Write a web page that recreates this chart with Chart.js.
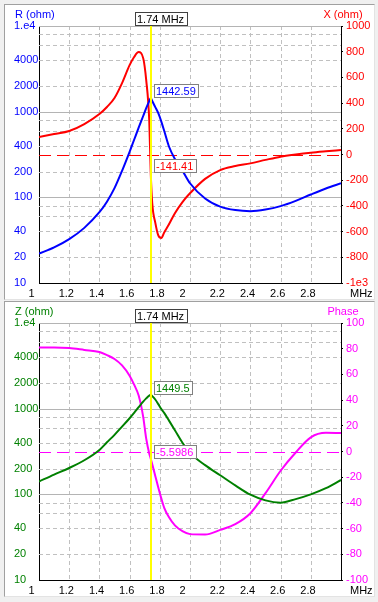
<!DOCTYPE html>
<html>
<head>
<meta charset="utf-8">
<script src="https://cdn.jsdelivr.net/npm/chart.js@4.4.1/dist/chart.umd.min.js"></script>
<style>
  body { margin: 0; background: #f0f0f0; width: 378px; height: 602px; overflow: hidden; position: relative; }
  .panel { position: absolute; left: 4px; width: 369px; height: 294px; background: #fff;
           border: 1px solid; border-color: #a0a0a0 #e3e3e3 #e3e3e3 #a0a0a0; }
  #p1 { top: 4px; }
  #p2 { top: 301px; }
  canvas { display: block; }
</style>
</head>
<body>
<div class="panel" id="p1"><canvas id="rxChart" width="369" height="294"></canvas></div>
<div class="panel" id="p2"><canvas id="zChart" width="369" height="294"></canvas></div>
<script>
// sweep frequencies (MHz)
const freq = [1.0, 1.1, 1.2, 1.3, 1.4, 1.45, 1.5, 1.55, 1.6, 1.63, 1.66, 1.69, 1.71, 1.73, 1.74,
  1.75, 1.77, 1.79, 1.81, 1.83, 1.86, 1.9, 1.95, 2.0, 2.1, 2.2, 2.3, 2.4, 2.5, 2.6, 2.7, 2.8, 2.9, 3.0];

// R (ohm), X (ohm), |Z| (ohm), phase (deg)
const resistance = [22, 26, 32.5, 44, 67, 89, 128, 204, 340, 470, 650, 890, 1100, 1330, 1442.59,
  1330, 1130, 960, 765, 590, 395, 280, 205, 146, 97, 78, 71, 69, 72, 79, 91, 108, 127, 146];
const reactance = [136, 159, 183, 237, 315, 370, 440, 556, 696, 759, 797, 750, 579, 268, -141.41,
  -380, -530, -630, -650, -605, -545, -457, -370, -302, -190, -121, -90, -69, -42, -17, 0, 14, 25, 35];
const impedance = [141, 170, 203, 250, 330, 405, 495, 617, 773, 895, 1042, 1210, 1318, 1419, 1449.5,
  1400, 1280, 1130, 990, 886, 730, 560, 400, 305, 219, 167, 127, 99, 85, 80, 88, 100, 118, 147];
const phase = [81, 81, 80.5, 79, 77.4, 75, 72, 67, 59, 52, 43.5, 27, 10, -1.5, -5.5986,
  -10, -19, -28, -36.5, -44, -51, -57.5, -62, -64.3, -64.6, -61, -56.5, -48, -32.4, -15, -0.8, 11, 14.5, 14.3];

// axis ticks
const freqTicks = [1, 1.2, 1.4, 1.6, 1.8, 2, 2.2, 2.4, 2.6, 2.8, 3];
const freqLabels = ['1', '1.2', '1.4', '1.6', '1.8', '2', '2.2', '2.4', '2.6', '2.8', ''];
const logGrid = [10, 20, 40, 60, 80, 100, 200, 400, 600, 800, 1000, 2000, 4000, 6000, 8000, 10000];
const logSolid = [100, 1000, 10000];
const logTicks = [10, 20, 40, 100, 200, 400, 1000, 2000, 4000, 10000];
const logLabels = ['10', '20', '40', '100', '200', '400', '1000', '2000', '4000', '1.e4'];
const reactTicks = [-1000, -800, -600, -400, -200, 0, 200, 400, 600, 800, 1000];
const reactLabels = ['-1e3', '-800', '-600', '-400', '-200', '0', '200', '400', '600', '800', '1000'];
const phaseTicks = [-100, -80, -60, -40, -20, 0, 20, 40, 60, 80, 100];
const phaseLabels = ['-100', '-80', '-60', '-40', '-20', '0', '20', '40', '60', '80', '100'];

// cursor readout
const cursorFreq = 1.74;
const cursorText = '1.74 MHz';
const cursorR = 1442.59;
const cursorX = -141.41;
const cursorZ = 1449.5;
const cursorPhase = -5.5986;

const FAMILY = "'Liberation Sans', Arial, sans-serif";
const FONT = '11px ' + FAMILY;
Chart.defaults.font.family = FAMILY;
Chart.defaults.font.size = 11;

function pts(ys) {
  return freq.map((f, i) => ({ x: f, y: ys[i] }));
}

function setTicks(values) {
  return scale => { scale.ticks = values.map(v => ({ value: v })); };
}

function labelFrom(values, labels) {
  return v => {
    const i = values.indexOf(v);
    return i >= 0 ? labels[i] : '';
  };
}

function box(ctx, text, x, y, color, border) {
  const w = Math.ceil(ctx.measureText(text).width) + 4;
  ctx.fillStyle = '#fff';
  ctx.fillRect(x, y, w, 13);
  ctx.strokeStyle = border;
  ctx.lineWidth = 1;
  ctx.setLineDash([]);
  ctx.strokeRect(x + 0.5, y + 0.5, w, 13);
  ctx.fillStyle = color;
  ctx.fillText(text, x + 2, y + 7.5);
}

function panelPlugin(p) {
  return {
    id: 'panelDecor',
    beforeDatasetsDraw(chart) {
      const { ctx, chartArea: a } = chart;
      const xs = chart.scales.x, yl = chart.scales.yL, yr = chart.scales.yR;
      ctx.save();
      ctx.lineWidth = 1;
      // vertical grid (dashed)
      ctx.strokeStyle = '#c0c0c0';
      ctx.setLineDash([4, 3]);
      freqTicks.slice(1, -1).forEach(v => {
        const x = Math.round(xs.getPixelForValue(v)) + 0.5;
        ctx.beginPath(); ctx.moveTo(x, a.top); ctx.lineTo(x, a.bottom); ctx.stroke();
      });
      // horizontal grid from log axis
      logGrid.slice(1).forEach(v => {
        const solid = logSolid.includes(v);
        ctx.strokeStyle = solid ? '#b4b4b4' : '#c0c0c0';
        ctx.setLineDash(solid ? [] : [4, 3]);
        const y = Math.round(yl.getPixelForValue(v)) + 0.5;
        ctx.beginPath(); ctx.moveTo(a.left, y); ctx.lineTo(a.right, y); ctx.stroke();
      });
      // zero line of the right axis
      ctx.strokeStyle = p.rightColor;
      ctx.setLineDash([12, 6]);
      const y0 = Math.round(yr.getPixelForValue(0)) + 0.5;
      ctx.beginPath(); ctx.moveTo(a.left, y0); ctx.lineTo(a.right, y0); ctx.stroke();
      ctx.restore();
    },
    afterDatasetsDraw(chart) {
      const { ctx, chartArea: a } = chart;
      const cx = Math.round(chart.scales.x.getPixelForValue(cursorFreq));
      ctx.save();
      // yellow cursor line
      ctx.strokeStyle = '#ffff00';
      ctx.lineWidth = 2;
      ctx.beginPath(); ctx.moveTo(cx, a.top); ctx.lineTo(cx, a.bottom); ctx.stroke();
      ctx.font = FONT;
      ctx.textBaseline = 'middle';
      ctx.textAlign = 'left';
      box(ctx, cursorText, cx - 16, 7, '#000', '#404040');
      p.readouts.forEach(r => {
        const y = Math.round(chart.scales[r.axis].getPixelForValue(r.value));
        box(ctx, String(r.value), cx + 3, y - 14, r.color, '#808080');
      });
      // axis titles
      ctx.fillStyle = p.leftColor;
      ctx.fillText(p.leftTitle, 10, 9.5);
      ctx.textAlign = 'center';
      ctx.fillStyle = p.rightColor;
      ctx.fillText(p.rightTitle, a.right + 2, 9.5);
      ctx.textAlign = 'left';
      ctx.fillStyle = '#000';
      ctx.fillText('MHz', a.right + 9, 289);
      ctx.restore();
    }
  };
}

function makePanel(id, p) {
  return new Chart(document.getElementById(id), {
    type: 'line',
    data: {
      datasets: [
        { data: pts(p.left), borderColor: p.leftColor, yAxisID: 'yL' },
        { data: pts(p.right), borderColor: p.rightColor, yAxisID: 'yR' }
      ]
    },
    options: {
      responsive: false,
      animation: false,
      events: [],
      layout: { padding: { left: 9, top: 21, right: 0, bottom: 0 }, autoPadding: false },
      elements: {
        point: { radius: 0 },
        line: { borderWidth: 2, cubicInterpolationMode: 'monotone', fill: false }
      },
      plugins: { legend: { display: false }, tooltip: { enabled: false } },
      scales: {
        x: {
          type: 'linear', min: 1, max: 3,
          afterBuildTicks: setTicks(freqTicks),
          afterFit: s => { s.height = 16; },
          grid: { display: false, drawTicks: false, tickLength: 0 },
          border: { color: '#000' },
          ticks: { color: '#000', align: 'start', labelOffset: -10.5, padding: 4,
                   maxRotation: 0, minRotation: 0, autoSkip: false,
                   callback: labelFrom(freqTicks, freqLabels) }
        },
        yL: {
          type: 'logarithmic', position: 'left', min: 10, max: 10000,
          afterBuildTicks: setTicks(logGrid),
          afterFit: s => { s.width = 25; },
          grid: { display: false },
          border: { color: '#000' },
          ticks: { color: p.leftColor, crossAlign: 'far', autoSkip: false,
                   callback: labelFrom(logTicks, logLabels) }
        },
        yR: {
          type: 'linear', position: 'right', min: p.rMin, max: p.rMax,
          afterBuildTicks: setTicks(p.rTicks),
          afterFit: s => { s.width = 33; },
          grid: { drawOnChartArea: false, tickLength: 2, tickColor: '#000' },
          border: { color: '#000' },
          ticks: { color: p.rightColor, padding: 3, autoSkip: false,
                   callback: labelFrom(p.rTicks, p.rLabels) }
        }
      }
    },
    plugins: [panelPlugin(p)]
  });
}

// R / X panel
makePanel('rxChart', {
  left: resistance, right: reactance,
  leftColor: '#0000ff', rightColor: '#ff0000',
  leftTitle: 'R (ohm)', rightTitle: 'X (ohm)',
  rMin: -1000, rMax: 1000, rTicks: reactTicks, rLabels: reactLabels,
  readouts: [
    { axis: 'yL', value: cursorR, color: '#0000ff' },
    { axis: 'yR', value: cursorX, color: '#ff0000' }
  ]
});

// |Z| / phase panel
makePanel('zChart', {
  left: impedance, right: phase,
  leftColor: '#008000', rightColor: '#ff00ff',
  leftTitle: 'Z (ohm)', rightTitle: 'Phase',
  rMin: -100, rMax: 100, rTicks: phaseTicks, rLabels: phaseLabels,
  readouts: [
    { axis: 'yL', value: cursorZ, color: '#008000' },
    { axis: 'yR', value: cursorPhase, color: '#ff00ff' }
  ]
});
</script>
</body>
</html>
